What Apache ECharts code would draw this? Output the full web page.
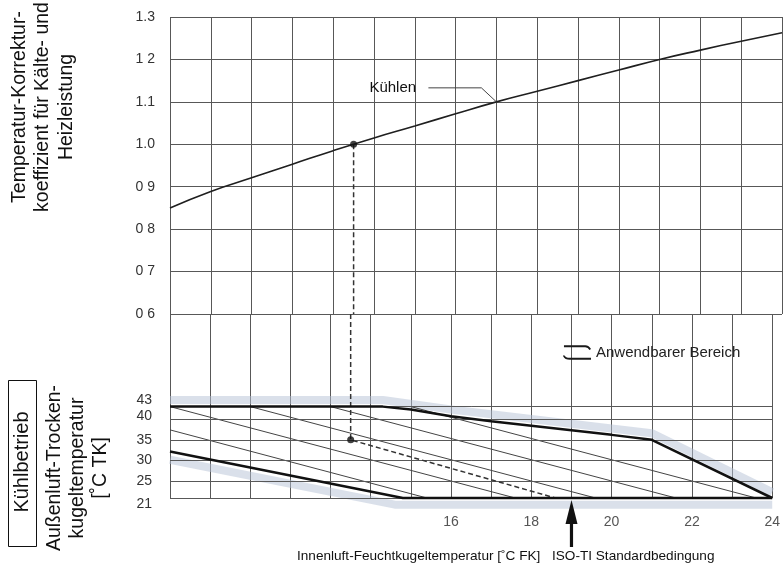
<!DOCTYPE html>
<html><head><meta charset="utf-8">
<script src="https://cdn.jsdelivr.net/npm/echarts@6/dist/echarts.min.js"></script>
<style>html,body{margin:0;padding:0;background:#fff}#c{width:783px;height:565px}</style>
</head><body><div id="c"></div>
<script>
// ---------- data ----------
const xMin = 9, xMax = 24;
const xTickShown = [16, 18, 20, 22, 24];
const coefTickValues = [0.6, 0.7, 0.8, 0.9, 1.0, 1.1, 1.2, 1.3];
const coefTickLabels = ['0 6', '0 7', '0 8', '0 9', '1.0', '1.1', '1 2', '1.3'];
const tempTickValues = [21, 25, 30, 35, 40, 43];
const coolingX = [9, 10, 11, 12, 13, 14, 15, 16, 17, 18, 19, 20, 21, 22, 23, 24];
const coolingY = [0.850, 0.889, 0.921, 0.953, 0.985, 1.015, 1.043, 1.072, 1.100, 1.125, 1.150, 1.175, 1.200, 1.222, 1.243, 1.263];
const opPointX = 13.5, opPointCoef = 1.0, opPointTemp = 35;
const dashEnd = [18.6, 21];
const isoX = 19;
const upperBoundX = [9, 14.3, 15, 16, 17, 18, 19, 20, 21, 24];
const upperBoundT = [43, 43, 42.3, 40.7, 39.5, 38.4, 37.3, 36.2, 35, 21];
const lowerBoundX = [9, 14.8, 24];
const lowerBoundT = [32.2, 21, 21];
// thin diagonal lines
const diagStartX = [9, 11, 13, 15, 9];
const diagStartT = [43, 43, 43, 43, 37.4];
const diagEndX = [17.6, 19.6, 21.6, 23.6, 15.4];
const diagEndT = [21, 21, 21, 21, 21];
const bandTopX = [9, 14.3, 16, 18, 21, 24];
const bandTopT = [44.6, 44.6, 42.3, 40, 36.6, 22.4];
const bandBotX = [9, 14.6, 24];
const bandBotT = [30.2, 19.4, 19.4];

const zip = (a, b) => a.map((v, i) => [v, b[i]]);
const FONT = '"Liberation Sans", Arial, sans-serif';
const GRIDC = '#585858';
const BANDC = 'rgba(182,194,214,0.5)';

const chart = echarts.init(document.getElementById('c'), null, {renderer: 'canvas', width: 783, height: 565});

const xCommon = {
  type: 'value', min: xMin, max: xMax, interval: 1,
  axisTick: {show: false}, axisLine: {show: false},
  splitLine: {show: true, lineStyle: {color: GRIDC, width: 1}}
};

const diagSeries = diagStartX.map((sx, i) => ({
  type: 'line', xAxisIndex: 1, yAxisIndex: 1, symbol: 'none', silent: true,
  data: [[sx, diagStartT[i]], [diagEndX[i], diagEndT[i]]],
  lineStyle: {color: '#444', width: 1}, z: 3
}));

const tempLabel = v => {
  if (!tempTickValues.includes(v)) return '';
  if (v === 43) return '{up|43}';
  if (v === 40) return '{up2|40}';
  if (v === 21) return '{dn|21}';
  return String(v);
};

const option = {
  animation: false,
  backgroundColor: '#fff',
  grid: [
    {left: 170, right: 1, top: 17, bottom: 251},
    {left: 170, right: 1, top: 314, bottom: 67}
  ],
  xAxis: [
    Object.assign({gridIndex: 0, axisLabel: {show: false}}, xCommon),
    Object.assign({gridIndex: 1, axisLabel: {
      show: true, margin: 17, fontSize: 14, color: '#555', fontFamily: FONT,
      formatter: v => xTickShown.includes(v) ? String(v) : ''
    }}, xCommon)
  ],
  yAxis: [
    {gridIndex: 0, type: 'value', min: 0.6, max: 1.3, interval: 0.1,
      axisTick: {show: false}, axisLine: {show: false},
      splitLine: {show: true, lineStyle: {color: GRIDC, width: 1}},
      axisLabel: {margin: 15, fontSize: 14, color: '#333', fontFamily: FONT,
        formatter: v => {
          const i = coefTickValues.findIndex(t => Math.abs(t - v) < 1e-6);
          return i >= 0 ? coefTickLabels[i] : '';
        }}
    },
    {gridIndex: 1, type: 'value', min: 21, max: 65.3, interval: 1,
      axisTick: {show: false}, axisLine: {show: false}, splitLine: {show: false},
      axisLabel: {margin: 18, fontSize: 14, color: '#333', fontFamily: FONT, showMaxLabel: false,
        formatter: tempLabel,
        rich: {
          up: {fontSize: 14, color: '#333', fontFamily: FONT, padding: [0, 0, 12, 0]},
          up2: {fontSize: 14, color: '#333', fontFamily: FONT, padding: [0, 0, 5, 0]},
          dn: {fontSize: 14, color: '#333', fontFamily: FONT, padding: [12, 0, 0, 0]}
        }}
    }
  ],
  legend: {
    left: 563, top: 345, padding: 0, itemWidth: 28, itemHeight: 15, itemGap: 6,
    textStyle: {fontSize: 15, color: '#222', fontFamily: FONT},
    data: [{name: 'Anwendbarer Bereich',
      icon: 'path://M0,0 H22 Q26,0 28,4 L26.4,5 Q25,2 22,2 H0 Z M0,10 Q2,13 6,13 H28 V15 H6 Q1,15 -1,11 Z',
      itemStyle: {color: '#1a1a1a'}}]
  },
  series: [
    {name: 'Kühlen', type: 'line', xAxisIndex: 0, yAxisIndex: 0, smooth: true, symbol: 'none',
      data: zip(coolingX, coolingY), lineStyle: {color: '#1f1f1f', width: 1.6}, z: 5},
    {type: 'line', xAxisIndex: 0, yAxisIndex: 0, symbol: 'none', data: [[opPointX, opPointCoef], [opPointX, 0.6]],
      lineStyle: {color: '#333', width: 1.5, type: [5, 3]}, z: 4},
    {type: 'scatter', xAxisIndex: 0, yAxisIndex: 0, data: [[opPointX, opPointCoef]],
      symbolSize: 7, itemStyle: {color: '#111'}, z: 6},
    {type: 'line', xAxisIndex: 1, yAxisIndex: 1, data: [], silent: true,
      markLine: {silent: true, symbol: 'none', label: {show: false},
        lineStyle: {color: GRIDC, width: 1, type: 'solid'},
        data: tempTickValues.map(t => ({yAxis: t}))}},
    ...diagSeries,
    {name: 'Anwendbarer Bereich', type: 'line', xAxisIndex: 1, yAxisIndex: 1, symbol: 'none', clip: false, silent: true,
      data: zip(bandTopX, bandTopT), lineStyle: {color: BANDC, width: 8, join: 'round'}, itemStyle: {color: '#1a1a1a'}, z: 1},
    {name: 'Anwendbarer Bereich', type: 'line', xAxisIndex: 1, yAxisIndex: 1, symbol: 'none', clip: false, silent: true,
      data: zip(bandBotX, bandBotT), lineStyle: {color: BANDC, width: 8, join: 'round'}, itemStyle: {color: '#1a1a1a'}, z: 1},
    {type: 'line', xAxisIndex: 1, yAxisIndex: 1, symbol: 'none', clip: false,
      data: zip(upperBoundX, upperBoundT), lineStyle: {color: '#111', width: 2.5}, z: 6},
    {type: 'line', xAxisIndex: 1, yAxisIndex: 1, symbol: 'none', clip: false,
      data: zip(lowerBoundX, lowerBoundT), lineStyle: {color: '#111', width: 2.5}, z: 6},
    {type: 'line', xAxisIndex: 1, yAxisIndex: 1, symbol: 'none',
      data: [[opPointX, 65.3], [opPointX, opPointTemp], dashEnd],
      lineStyle: {color: '#333', width: 1.5, type: [5, 3]}, z: 5},
    {type: 'scatter', xAxisIndex: 1, yAxisIndex: 1, data: [[opPointX, opPointTemp]],
      symbolSize: 7, itemStyle: {color: '#111'}, z: 7}
  ]
};
chart.setOption(option);

// ---------- annotations positioned through the axes ----------
const pK = chart.convertToPixel({xAxisIndex: 0, yAxisIndex: 0}, [17, 1.1]);
const pA = chart.convertToPixel({xAxisIndex: 1, yAxisIndex: 1}, [isoX, 21]);
const ax = pA[0], ay = pA[1];
chart.setOption({
  graphic: [
    {type: 'text', x: pK[0] - 127, y: pK[1] - 14, style: {text: 'Kühlen', font: '15px ' + FONT, fill: '#111', verticalAlign: 'middle', align: 'left'}, z: 10},
    {type: 'polyline', shape: {points: [[pK[0] - 68, pK[1] - 14], [pK[0] - 15, pK[1] - 14], [pK[0], pK[1]]]},
      style: {stroke: '#444', lineWidth: 1, fill: null}, z: 10},
    {type: 'polygon', shape: {points: [[ax, ay + 2], [ax - 6, ay + 26], [ax + 6, ay + 26]]}, style: {fill: '#111'}, z: 10},
    {type: 'rect', shape: {x: ax - 1.6, y: ay + 20, width: 3.2, height: 29}, style: {fill: '#111'}, z: 10},
    {type: 'text', x: 297, y: 556, style: {text: 'Innenluft-Feuchtkugeltemperatur [˚C FK]', font: '13.6px ' + FONT, fill: '#111', verticalAlign: 'middle', align: 'left'}},
    {type: 'text', x: 552, y: 556, style: {text: 'ISO-TI Standardbedingung', font: '13.6px ' + FONT, fill: '#111', verticalAlign: 'middle', align: 'left'}},
    {type: 'text', x: 43, y: 107, rotation: Math.PI / 2,
      style: {text: 'Temperatur-Korrektur-\nkoeffizient für Kälte- und\nHeizleistung', font: '19.5px ' + FONT, lineHeight: 23.5, fill: '#111', align: 'center', verticalAlign: 'middle'}},
    {type: 'text', x: 78, y: 468, rotation: Math.PI / 2,
      style: {text: 'Außenluft-Trocken-\nkugeltemperatur\n[˚C TK]', font: '19.5px ' + FONT, lineHeight: 23, fill: '#111', align: 'center', verticalAlign: 'middle'}},
    {type: 'rect', shape: {x: 8.5, y: 380.5, width: 28, height: 166}, style: {stroke: '#111', lineWidth: 1, fill: null}},
    {type: 'text', x: 22, y: 462, rotation: Math.PI / 2,
      style: {text: 'Kühlbetrieb', font: '20px ' + FONT, fill: '#111', align: 'center', verticalAlign: 'middle'}}
  ]
});
</script></body></html>
